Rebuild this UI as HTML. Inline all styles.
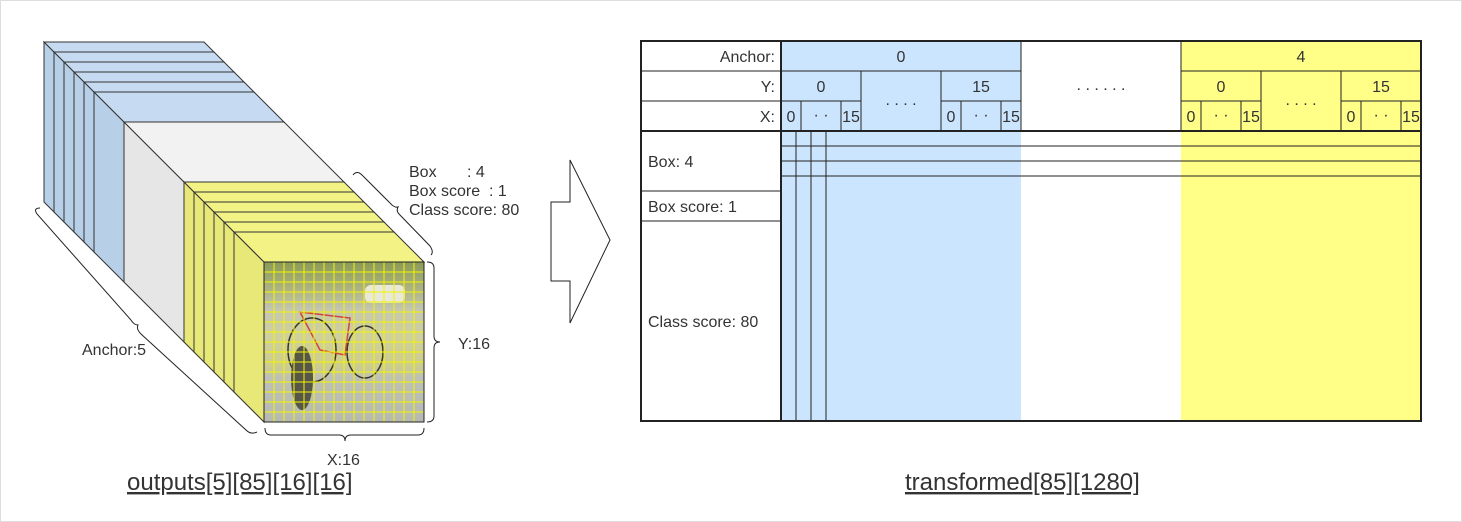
<!DOCTYPE html>
<html><head><meta charset="utf-8"><style>
html,body{margin:0;padding:0;background:#fff}
svg{display:block}
text{font-family:"Liberation Sans",sans-serif;fill:#333;font-size:16px}
</style></head><body>
<svg id="s" width="1462" height="522" viewBox="0 0 1462 522">
<rect x="0.5" y="0.5" width="1461" height="521" fill="#fff" stroke="#ddd"/>
<g id="cube"></g>
<g id="img">
  <defs>
    <linearGradient id="ig" x1="0" y1="0" x2="0" y2="1">
      <stop offset="0" stop-color="#8a9a58"/>
      <stop offset="0.15" stop-color="#a9b07e"/>
      <stop offset="0.3" stop-color="#c4c6b4"/>
      <stop offset="0.45" stop-color="#cfd0a0"/>
      <stop offset="0.65" stop-color="#cdcd8e"/>
      <stop offset="0.72" stop-color="#bec1b8"/>
      <stop offset="1" stop-color="#b6bab2"/>
    </linearGradient>
  </defs>
  <rect x="264" y="262" width="160" height="160" fill="url(#ig)"/>
  <rect x="365" y="285" width="40" height="18" rx="6" fill="#e8e8dc"/>
  <ellipse cx="312" cy="350" rx="24" ry="32" fill="none" stroke="#333" stroke-width="1.5"/>
  <ellipse cx="365" cy="352" rx="18" ry="26" fill="none" stroke="#333" stroke-width="1.5"/>
  <path d="M300 312 L350 318 L345 355 L320 350 Z" fill="none" stroke="#c44" stroke-width="1.5"/>
  <ellipse cx="302" cy="378" rx="11" ry="32" fill="#55554a"/>
  <g id="grid" stroke="#f4f400" stroke-width="1"></g>
  <rect x="264" y="262" width="160" height="160" fill="none" stroke="#222" stroke-width="1"/>
</g>
<g fill="none" stroke="#222" stroke-width="1">
  <path d="M40,208 Q33,208 37,214 L131,320 Q134,325 138,325 Q136,329 141,334 L246,430 Q251,435 257,432"/>
  <path d="M353,175 Q357,170 362,175 L392,205 Q396,208 398,207 Q396,211 399,214 L430,246 Q434,252 431,255"/>
  <path d="M427,262 Q434,262 434,268 L434,336 Q434,342 440,342 Q434,342 434,348 L434,416 Q434,422 427,422"/>
  <path d="M265,428 Q265,435 271,435 L339,435 Q345,435 345,441 Q345,435 351,435 L418,435 Q424,435 424,428"/>
</g>
<text x="82" y="355">Anchor:5</text>
<text x="409" y="177">Box</text><text x="467" y="177">: 4</text>
<text x="409" y="196">Box score</text><text x="489" y="196">: 1</text>
<text x="409" y="215">Class score: 80</text>
<text x="458" y="349">Y:16</text>
<text x="327" y="465">X:16</text>
<text x="127" y="490" style="font-size:24px;text-decoration:underline">outputs[5][85][16][16]</text>
<polygon points="570,160 610,240 570,323 570,281 551,281 551,202 570,202" fill="#fff" stroke="#222" stroke-width="1"/>
<g id="table">
  <rect x="781" y="41" width="240" height="380" fill="#cce5ff"/>
  <rect x="1181" y="41" width="240" height="380" fill="#ffff88"/>
  <g stroke="#222" stroke-width="1" fill="none">
    <line x1="641" y1="71" x2="1021" y2="71"/><line x1="1181" y1="71" x2="1421" y2="71"/>
    <line x1="641" y1="101" x2="861" y2="101"/><line x1="941" y1="101" x2="1021" y2="101"/>
    <line x1="1181" y1="101" x2="1261" y2="101"/><line x1="1341" y1="101" x2="1421" y2="101"/>
    <line x1="1021" y1="41" x2="1021" y2="131"/><line x1="1181" y1="41" x2="1181" y2="131"/>
    <line x1="861" y1="71" x2="861" y2="131"/><line x1="941" y1="71" x2="941" y2="131"/>
    <line x1="1261" y1="71" x2="1261" y2="131"/><line x1="1341" y1="71" x2="1341" y2="131"/>
    <line x1="801" y1="101" x2="801" y2="131"/><line x1="841" y1="101" x2="841" y2="131"/>
    <line x1="961" y1="101" x2="961" y2="131"/><line x1="1001" y1="101" x2="1001" y2="131"/>
    <line x1="1201" y1="101" x2="1201" y2="131"/><line x1="1241" y1="101" x2="1241" y2="131"/>
    <line x1="1361" y1="101" x2="1361" y2="131"/><line x1="1401" y1="101" x2="1401" y2="131"/>
    <line x1="641" y1="191" x2="781" y2="191"/><line x1="641" y1="221" x2="781" y2="221"/>
    <line x1="796" y1="131" x2="796" y2="421"/><line x1="811" y1="131" x2="811" y2="421"/><line x1="826" y1="131" x2="826" y2="421"/>
    <line x1="781" y1="146" x2="1421" y2="146"/><line x1="781" y1="161" x2="1421" y2="161"/><line x1="781" y1="176" x2="1421" y2="176"/>
    <line x1="641" y1="131" x2="1421" y2="131" stroke-width="2"/>
    <line x1="781" y1="41" x2="781" y2="421" stroke-width="2"/>
    <rect x="641" y="41" width="780" height="380" stroke-width="2"/>
  </g>
  <g text-anchor="end">
    <text x="775" y="62">Anchor:</text>
    <text x="775" y="92">Y:</text>
    <text x="775" y="122">X:</text>
  </g>
  <g text-anchor="middle">
    <text x="901" y="62">0</text><text x="1301" y="62">4</text>
    <text x="821" y="92">0</text><text x="981" y="92">15</text>
    <text x="1221" y="92">0</text><text x="1381" y="92">15</text>
    <text x="901" y="105">. . . .</text><text x="1301" y="105">. . . .</text>
    <text x="1101" y="90">. . . . . .</text>
    <text x="791" y="122">0</text><text x="821" y="120">· ·</text><text x="851" y="122">15</text>
    <text x="951" y="122">0</text><text x="981" y="120">· ·</text><text x="1011" y="122">15</text>
    <text x="1191" y="122">0</text><text x="1221" y="120">· ·</text><text x="1251" y="122">15</text>
    <text x="1351" y="122">0</text><text x="1381" y="120">· ·</text><text x="1411" y="122">15</text>
  </g>
  <text x="648" y="167">Box: 4</text>
  <text x="648" y="212">Box score: 1</text>
  <text x="648" y="327">Class score: 80</text>
</g>
<text x="905" y="490" style="font-size:24px;text-decoration:underline">transformed[85][1280]</text>
</svg>
<script>
const NS="http://www.w3.org/2000/svg";
const cube=document.getElementById('cube');
const slabs=[[0,10,'b'],[10,20,'b'],[20,30,'b'],[30,40,'b'],[40,50,'b'],[50,80,'b'],[80,140,'w'],
[140,150,'y'],[150,160,'y'],[160,170,'y'],[170,180,'y'],[180,190,'y'],[190,220,'y']];
const col={b:['#b8cfe8','#c6dbf1'],w:['#e6e6e6','#f2f2f2'],y:['#e8e878','#f2f285']};
const X0=44,Y0=42,S=160;
slabs.forEach(function(s){
  const a=s[0],b=s[1],c=col[s[2]];
  const side=document.createElementNS(NS,'polygon');
  side.setAttribute('points',`${X0+a},${Y0+a} ${X0+b},${Y0+b} ${X0+b},${Y0+S+b} ${X0+a},${Y0+S+a}`);
  side.setAttribute('fill',c[0]);side.setAttribute('stroke','#333');side.setAttribute('stroke-width','1');
  
  
  cube.appendChild(side);
  const top=document.createElementNS(NS,'polygon');
  top.setAttribute('points',`${X0+a},${Y0+a} ${X0+S+a},${Y0+a} ${X0+S+b},${Y0+b} ${X0+b},${Y0+b}`);
  top.setAttribute('fill',c[1]);top.setAttribute('stroke','#333');top.setAttribute('stroke-width','1');
  
  
  cube.appendChild(top);
});
const g=document.getElementById('grid');
for(let i=1;i<16;i++){
  const v=document.createElementNS(NS,'line');
  v.setAttribute('x1',264+i*10);v.setAttribute('x2',264+i*10);v.setAttribute('y1',262);v.setAttribute('y2',422);
  
  
  g.appendChild(v);
  const h=document.createElementNS(NS,'line');
  h.setAttribute('y1',262+i*10);h.setAttribute('y2',262+i*10);h.setAttribute('x1',264);h.setAttribute('x2',424);
  
  
  g.appendChild(h);
}
</script>
</body></html>
